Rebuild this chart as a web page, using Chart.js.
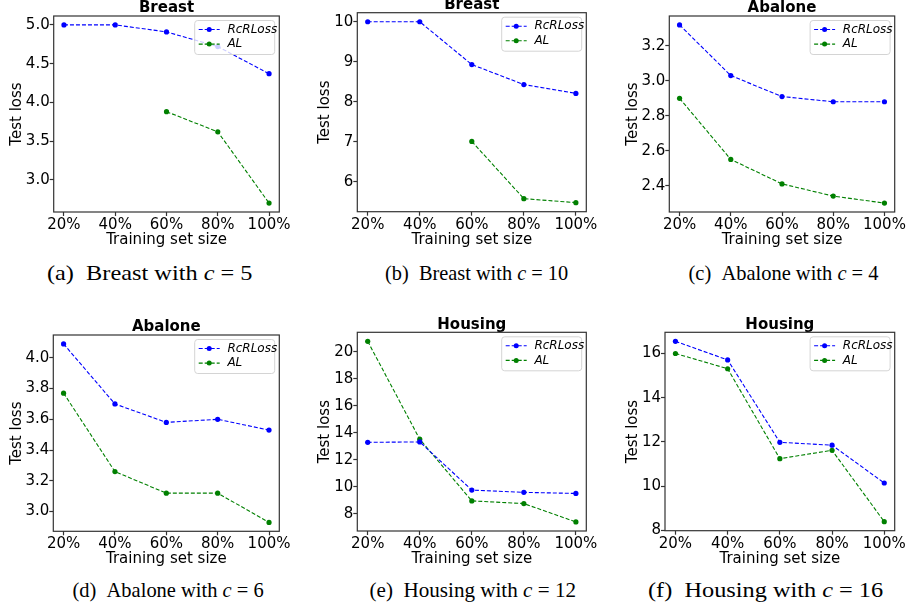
<!DOCTYPE html>
<html>
<head>
<meta charset="utf-8">
<script src="https://cdn.jsdelivr.net/npm/chart.js@4.4.1/dist/chart.umd.min.js"></script>
<style>
  body { margin: 0; width: 909px; height: 613px; background: #fff; position: relative; overflow: hidden; }
  .panel { position: absolute; width: 303px; height: 270px; }
  .cap { position: absolute; font-family: "Liberation Serif", "Times New Roman", serif; font-size: 21px;
         line-height: 21px; white-space: nowrap; color: #000; transform-origin: 50% 50%; }
  .cap i { font-style: italic; }
</style>
</head>
<body>
<div class="panel" style="left:0px;top:-10px"><canvas id="chartA" width="303" height="270"></canvas></div>
<div class="panel" style="left:303px;top:-10px"><canvas id="chartB" width="303" height="270"></canvas></div>
<div class="panel" style="left:606px;top:-10px"><canvas id="chartC" width="303" height="270"></canvas></div>
<div class="panel" style="left:0px;top:300px"><canvas id="chartD" width="303" height="270"></canvas></div>
<div class="panel" style="left:303px;top:300px"><canvas id="chartE" width="303" height="270"></canvas></div>
<div class="panel" style="left:606px;top:300px"><canvas id="chartF" width="303" height="270"></canvas></div>

<span class="cap" id="capA">(a)&ensp;Breast with <i>c</i> = 5</span>
<span class="cap" id="capB">(b)&ensp;Breast with <i>c</i> = 10</span>
<span class="cap" id="capC">(c)&ensp;Abalone with <i>c</i> = 4</span>
<span class="cap" id="capD">(d)&ensp;Abalone with <i>c</i> = 6</span>
<span class="cap" id="capE">(e)&ensp;Housing with <i>c</i> = 12</span>
<span class="cap" id="capF">(f)&ensp;Housing with <i>c</i> = 16</span>

<script>
const categories = ['20%', '40%', '60%', '80%', '100%'];
const seriesNames = ['RcRLoss', 'AL'];

// test loss per panel (null = not plotted)
const rcrA = [5.00, 5.00, 4.91, 4.72, 4.37];
const alA  = [null, null, 3.88, 3.62, 2.70];
const rcrB = [10.00, 10.00, 8.93, 8.43, 8.21];
const alB  = [null, null, 7.01, 5.58, 5.48];
const rcrC = [3.32, 3.03, 2.91, 2.88, 2.88];
const alC  = [2.90, 2.55, 2.41, 2.34, 2.30];
const rcrD = [4.09, 3.70, 3.58, 3.60, 3.53];
const alD  = [3.77, 3.26, 3.12, 3.12, 2.93];
const rcrE = [13.30, 13.33, 9.77, 9.60, 9.52];
const alE  = [20.77, 13.53, 8.97, 8.77, 7.41];
const rcrF = [16.55, 15.71, 11.98, 11.85, 10.14];
const alF  = [16.00, 15.31, 11.24, 11.62, 8.39];

const yTicksA = ['3.0', '3.5', '4.0', '4.5', '5.0'];
const yTicksB = ['6', '7', '8', '9', '10'];
const yTicksC = ['2.4', '2.6', '2.8', '3.0', '3.2'];
const yTicksD = ['3.0', '3.2', '3.4', '3.6', '3.8', '4.0'];
const yTicksE = ['8', '10', '12', '14', '16', '18', '20'];
const yTicksF = ['8', '10', '12', '14', '16'];

Chart.defaults.font.family = '"DejaVu Sans", sans-serif';
Chart.defaults.color = '#000';

// page geometry of each axes box: [left, top, right, bottom]
const panels = [
  { id: 'chartA', title: 'Breast',  rcr: rcrA, al: alA, ticks: yTicksA, cx: 0,   cy: -10, box: [53.7, 16, 279.3, 212],    yTitleX: 17.5,  xTitleY: 240.5 },
  { id: 'chartB', title: 'Breast',  rcr: rcrB, al: alB, ticks: yTicksB, cx: 303, cy: -10, box: [357.3, 12.7, 586.3, 211.7], yTitleX: 325.1, xTitleY: 239.8 },
  { id: 'chartC', title: 'Abalone', rcr: rcrC, al: alC, ticks: yTicksC, cx: 606, cy: -10, box: [669.3, 16, 894.7, 212],   yTitleX: 633.1, xTitleY: 240.1 },
  { id: 'chartD', title: 'Abalone', rcr: rcrD, al: alD, ticks: yTicksD, cx: 0,   cy: 300, box: [53.3, 335, 279.3, 531.3],  yTitleX: 17.1,  xTitleY: 559.5 },
  { id: 'chartE', title: 'Housing', rcr: rcrE, al: alE, ticks: yTicksE, cx: 303, cy: 300, box: [357.3, 332.3, 586.3, 531], yTitleX: 325.1, xTitleY: 559.5 },
  { id: 'chartF', title: 'Housing', rcr: rcrF, al: alF, ticks: yTicksF, cx: 606, cy: 300, box: [665, 332.3, 894.7, 530.7], yTitleX: 633.1, xTitleY: 559.5 },
];

const frame = {
  id: 'frame',
  afterDatasetsDraw(chart) {
    const { ctx, chartArea: a } = chart;
    ctx.save();
    ctx.strokeStyle = '#333';
    ctx.lineWidth = 1.2;
    ctx.strokeRect(a.left, a.top, a.right - a.left, a.bottom - a.top);
    ctx.restore();
  }
};

const boxLegend = {
  id: 'boxLegend',
  afterDraw(chart) {
    const { ctx, chartArea: a } = chart;
    const w = 80, h = 34;
    const x = a.right - 4.6 - w, y = a.top + 4.5;
    ctx.save();
    ctx.beginPath();
    ctx.roundRect(x, y, w, h, 3);
    ctx.fillStyle = 'rgba(255,255,255,0.8)';
    ctx.fill();
    ctx.strokeStyle = '#d4d4d4';
    ctx.lineWidth = 1;
    ctx.stroke();
    chart.data.datasets.forEach((ds, i) => {
      const ry = y + 9 + i * 14.6;
      ctx.strokeStyle = ds.borderColor;
      ctx.lineWidth = 1.1;
      ctx.setLineDash([4, 2]);
      ctx.beginPath();
      ctx.moveTo(x + 4, ry);
      ctx.lineTo(x + 25, ry);
      ctx.stroke();
      ctx.setLineDash([]);
      ctx.fillStyle = ds.borderColor;
      ctx.beginPath();
      ctx.arc(x + 14.5, ry, 2.5, 0, Math.PI * 2);
      ctx.fill();
      ctx.fillStyle = '#000';
      ctx.font = 'italic 12px "DejaVu Sans"';
      ctx.textBaseline = 'middle';
      ctx.fillText(ds.label, x + 32.7, ry);
    });
    ctx.restore();
  }
};

function series(label, values, color) {
  return {
    label: label,
    data: values.map((v, i) => ({ x: i, y: v })),
    borderColor: color,
    backgroundColor: color,
    borderWidth: 1.1,
    borderDash: [4, 2],
    pointRadius: 2.6,
    pointBorderWidth: 0,
    pointBackgroundColor: color,
    spanGaps: false,
    tension: 0,
  };
}

panels.forEach(p => {
  const [L, T, R, B] = p.box;
  const W = 303, H = 270;
  const vals = p.rcr.concat(p.al).filter(v => v !== null);
  const lo = Math.min(...vals), hi = Math.max(...vals);
  const pad = (hi - lo) * 0.05;
  const tickVals = p.ticks.map(Number);

  const padLeft = p.yTitleX - p.cx - 7.5;
  const yAxisW = L - p.cx - padLeft;
  const padBottom = p.cy + H - (p.xTitleY + 7.5);
  const xAxisH = p.xTitleY + 7.5 - B;

  new Chart(document.getElementById(p.id), {
    type: 'line',
    data: {
      datasets: [
        series(seriesNames[0], p.rcr, '#0000ff'),
        series(seriesNames[1], p.al, '#008000'),
      ]
    },
    options: {
      responsive: false,
      animation: false,
      layout: { padding: { left: padLeft, right: p.cx + W - R, top: T - 15 - p.cy, bottom: padBottom } },
      plugins: {
        legend: { display: false },
        tooltip: { enabled: false },
        title: {
          display: true, text: p.title, fullSize: false, color: '#000',
          font: { size: 15, weight: 'bold', lineHeight: 1 }, padding: 0
        }
      },
      scales: {
        x: {
          type: 'linear', min: -0.2, max: 4.2,
          afterBuildTicks: s => { s.ticks = categories.map((c, i) => ({ value: i })); },
          afterFit: s => { s.height = xAxisH; },
          ticks: { callback: v => categories[v], font: { size: 15, lineHeight: 1 }, padding: 1.5,
                   maxRotation: 0, autoSkip: false, color: '#000' },
          grid: { drawOnChartArea: false, drawTicks: true, tickLength: 4, tickColor: '#333', tickWidth: 1.2 },
          border: { display: false },
          title: { display: true, text: 'Training set size', font: { size: 15, lineHeight: 1 }, padding: 0, color: '#000' }
        },
        y: {
          type: 'linear', min: lo - pad, max: hi + pad,
          afterBuildTicks: s => { s.ticks = tickVals.map(v => ({ value: v })); },
          afterFit: s => { s.width = yAxisW; },
          ticks: { callback: (v, i) => p.ticks[i], font: { size: 15, lineHeight: 1 }, padding: 0,
                   autoSkip: false, color: '#000' },
          grid: { drawOnChartArea: false, drawTicks: true, tickLength: 4, tickColor: '#333', tickWidth: 1.2 },
          border: { display: false },
          title: { display: true, text: 'Test loss', font: { size: 15, lineHeight: 1 }, padding: 0, color: '#000' }
        }
      }
    },
    plugins: [frame, boxLegend]
  });
});

// captions: [id, centre x, baseline y, width on the page]
const capPlaces = [
  ['capA', 149.2, 281, 205], ['capB', 476.3, 281, 183], ['capC', 783.5, 281, 190],
  ['capD', 168, 597.5, 191], ['capE', 473.3, 597.5, 207], ['capF', 765.2, 597.5, 235],
];
capPlaces.forEach(([id, cxp, base, w]) => {
  const el = document.getElementById(id);
  const natural = el.offsetWidth;
  el.style.left = (cxp - natural / 2) + 'px';
  el.style.top = (base - 17.6) + 'px';
  el.style.transform = 'scaleX(' + (w / natural) + ')';
});
</script>
</body>
</html>
